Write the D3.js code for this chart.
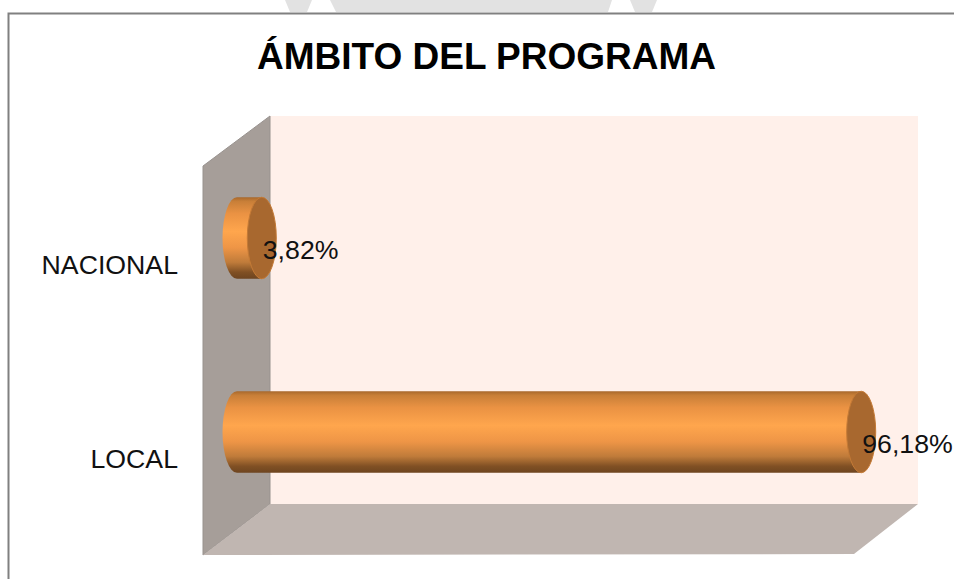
<!DOCTYPE html>
<html><head><meta charset="utf-8">
<script src="https://cdn.jsdelivr.net/npm/d3@7/dist/d3.min.js"></script>
<style>html,body{margin:0;padding:0;background:#fff}svg{display:block}text{font-family:"Liberation Sans",Arial,sans-serif}</style>
</head><body><svg id="c" width="954" height="579"></svg>
<script>
const categories = ["NACIONAL", "LOCAL"];
const values = [3.82, 96.18];
const labels = ["3,82%", "96,18%"];
const title = "ÁMBITO DEL PROGRAMA";

const svg = d3.select("#c");
const defs = svg.append("defs");
const grad = defs.append("linearGradient").attr("id","cyl").attr("x1",0).attr("x2",0).attr("y1",0).attr("y2",1);
[[0,"#a8682c"],[0.05,"#c87f38"],[0.2,"#ea9243"],[0.42,"#ffa64d"],[0.62,"#ee9546"],[0.8,"#bf7b3a"],[0.92,"#805024"],[1,"#6e4520"]]
  .forEach(d=>grad.append("stop").attr("offset",d[0]).attr("stop-color",d[1]));

const x = d3.scaleLinear().domain([0,100]).range([237,886]);
const y = d3.scaleBand().domain(categories).range([141,529]).paddingInner(0.58).paddingOuter(0.29);

// watermark remnants above the frame
[[[285,0],[312,0],[307,12],[290,12]],[[330,0],[612,0],[608,12],[336,12]],[[630,0],[657,0],[652,12],[635,12]]].forEach(p=>
  svg.append("polygon").attr("points",p.join(" ")).attr("fill","#e2e2e2"));

// frame
svg.append("path").attr("d","M8.5,579V13.5H954").attr("fill","none").attr("stroke","#808080").attr("stroke-width",2);

// walls
svg.append("rect").attr("x",270).attr("y",116).attr("width",648).attr("height",388).attr("fill","#fff0ea");
svg.append("polygon").attr("points","203,166 270,116 270,504 203,555").attr("fill","#a69e99").attr("stroke","#98928e").attr("stroke-width",1);
svg.append("polygon").attr("points","203,555 270,504 918,504 854,554").attr("fill","#c0b6b1");

// bars
const rx = 14.5;
const g = svg.selectAll("g.bar").data(categories.map((c,i)=>({c,v:values[i],l:labels[i]}))).join("g").attr("class","bar");
g.append("path").attr("d",d=>{
  const t=y(d.c), b=t+y.bandwidth(), r=y.bandwidth()/2, x0=x(0), x1=x(d.v);
  return `M${x1},${t}L${x0},${t}A${rx},${r} 0 0 0 ${x0},${b}L${x1},${b}Z`;
}).attr("fill","url(#cyl)");
g.append("ellipse").attr("cx",d=>x(d.v)).attr("cy",d=>y(d.c)+y.bandwidth()/2)
 .attr("rx",rx).attr("ry",y.bandwidth()/2).attr("fill","#a8682f").attr("stroke","#c47a36").attr("stroke-width",1);

// labels
g.append("text").attr("x",d=>x(d.v)+1).attr("y",d=>y(d.c)+y.bandwidth()/2+21)
 .attr("font-size",26.7).attr("fill","#111").text(d=>d.l);
svg.selectAll("text.cat").data(categories).join("text").attr("class","cat")
 .attr("x",178).attr("y",d=>y(d)+y.bandwidth()/2+36).attr("text-anchor","end").attr("font-size",26.7).attr("fill","#111").text(d=>d);

svg.append("text").attr("x",486.5).attr("y",69).attr("text-anchor","middle").attr("font-size",37).attr("font-weight","bold").attr("fill","#000").text(title);
</script></body></html>
